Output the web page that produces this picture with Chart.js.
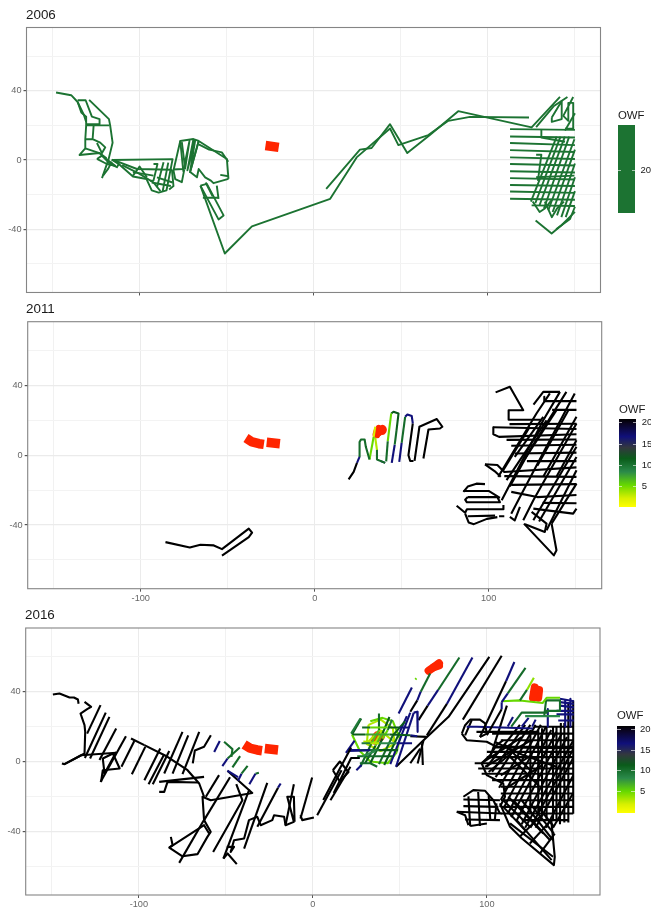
<!DOCTYPE html>
<html>
<head>
<meta charset="utf-8">
<title>OWF</title>
<script src="https://cdn.jsdelivr.net/npm/chart.js@4"></script>
<style>
body { margin: 0; background: #fff; font-family: "Liberation Sans", Arial, sans-serif; }
#page { position: relative; width: 651px; height: 909px; overflow: hidden; }
canvas { position: absolute; left: 0; }
.title { position: absolute; font-size: 13.4px; color: #1a1a1a; line-height: 16px; }
.legendTitle { position: absolute; font-size: 11.4px; color: #1a1a1a; line-height: 14px; }
.bar { position: absolute; width: 17.5px; }
.lab { position: absolute; font-size: 9.5px; color: #1a1a1a; line-height: 12px; }
.tick { position: absolute; width: 3.5px; height: 1px; background: rgba(255,255,255,.6); }
</style>
</head>
<body>
<div id="page">
  <canvas id="chart2006" width="651" height="300" style="top:0"></canvas>
  <canvas id="chart2011" width="651" height="308" style="top:300px"></canvas>
  <canvas id="chart2016" width="651" height="309" style="top:600px"></canvas>
</div>
<script>
// axis values
const xTickValues = [-150, -100, -50, 0, 50, 100, 150];
const xTickLabels = [-100, 0, 100];
const yTickValues = [-60, -40, -20, 0, 20, 40, 60];
const yTickLabels = [-40, 0, 40];

// owf colour ramp
const owfStopValues = [0, 2, 5, 8, 11, 13.5, 16, 19, 20];
const owfStopColors = ['#ffff00', '#d8f000', '#66d800', '#2b8a4a', '#0a5c1a', '#33383f', '#10107a', '#0a0420', '#000000'];
const flatColor2006 = '#1c7332';
const patchColor = '#ff2500';

// 2006 tracks, one colour
const tracks2006 = [
  [-148,39, -139.3,37.4, -135.6,33.5, -133.5,27.4, -130.7,25, -130.7,20, -131.2,12, -131.2,6.7, -134.5,2.9, -123,4, -116.9,-2.3, -113,-4.2, -112,-2.3, -116,0.2],
  [-135.6,34.5, -131,34.5, -127.4,25, -123,23.6, -123,20.7, -130.7,20.7],
  [-135.6,33.5, -132,26, -130.7,22],
  [-129,34.7, -117.6,23.6, -116.9,20, -115.5,10, -117.8,0.5, -121.6,-10.5],
  [-130.7,20, -117.3,20],
  [-126.4,20, -127,12, -122.6,10, -119.7,7.3, -121.6,4, -124.5,9.8],
  [-131.2,12, -127,12],
  [-131.2,6.7, -123,4, -119,1],
  [-124.5,0.6, -121.6,2.5, -114,-3.3, -118.8,-2.3, -124.5,0.6],
  [-121,-9, -118,-5, -116,-1],
  [-116,0, -81,0.5, -84.5,-17.5, -89,-18.8, -93,-17.5, -96,-11, -103.8,-9.5, -110,-4, -114,-0.4],
  [-114,-0.4, -101.5,-5.2, -81.4,-5.6],
  [-110,-3, -100,-8, -92,-13, -88,-18],
  [-103.8,-9, -100,-3.8, -95.8,-10],
  [-103.8,-7, -92,-9],
  [-92,-2.3, -89.7,-2.3, -92,-11.9, -94,-12],
  [-86.2,-1.3, -90,-15.7],
  [-83.5,-1.5, -86.7,-18],
  [-90,-10, -81,-13],
  [-93,-13, -82,-15],
  [-81.4,-5.6, -80.5,-15, -83,-17],
  [-80.8,-5.5, -75,-5.2, -76.6,11, -69,12.1, -66,11, -49.8,0.6, -48.9,-10.9],
  [-76.6,11, -80.5,-6.1, -79.5,-11, -75.7,-12.8, -74.3,-5.6],
  [-75.7,10.3, -73.8,-5, -71.3,11, -75,-6.7],
  [-69,12.1, -72.5,-6, -68,11.5, -71,-7, -66,11],
  [-66,11, -70.9,-7, -67,-10, -66,-5.2, -62.3,-10, -59,-11.9, -57.5,-13.4, -48.9,-10.9],
  [-66,9, -60,6, -52.7,4.4, -49,-1],
  [-53.6,-8.6, -48.9,-9.4],
  [-65,-14.8, -61.3,-13.8, -51.7,-32, -54.6,-34.3, -65,-14.8],
  [-65,-14.8, -51,-54, -35.4,-38.3, 9.6,-22.4, 24.8,1.5, 44,18.2, 48.8,8.6, 66,14.4, 77.5,22.6, 90,24.9, 123.9,24.5],
  [-63.6,-21.8, -54.6,-21.8],
  [-55.6,-14.8, -54.6,-22.4],
  [-62,-13, -58,-21],
  [7.3,-16.7, 26.7,6, 33.4,6.9, 44,20.7, 53.9,4, 66.9,14.4, 83.2,28.2, 125.4,18.8, 141.7,36.4],
  [128,19, 138,31, 146,36.4],
  [137,24.5, 142.7,34, 142.7,23.6, 137,22, 137,24.5],
  [149.3,36.4, 143.6,25.5, 146.5,22.6, 146.5,33, 149.3,33, 149.3,18, 144.6,18],
  [150.3,27, 144.6,17],
  [131,17.4, 131,13, 144.6,10.5],
  [113,17.8, 150.3,17.4],
  [113,13.6, 150.3,13],
  [113,9.8, 150.3,8.6],
  [113,5.7, 150.3,4.6],
  [113,1.5, 150.3,0.6],
  [113,-2.3, 150.3,-3.2],
  [113,-6.5, 150.3,-7.2],
  [113,-10.5, 150.3,-11.3],
  [113,-14.4, 150.3,-15],
  [113,-18.2, 150.3,-19],
  [113,-22.4, 150.3,-23],
  [125.4,-26.2, 150.3,-26.6],
  [125,-24, 139.8,13.5],
  [127.5,-25, 142,13.5],
  [130,-26, 144.5,13.5],
  [132.5,-28, 147,13.5],
  [135,-29, 150,12],
  [137.5,-30, 150.3,6],
  [140,-32, 150.3,-2],
  [142.5,-33, 150.3,-10],
  [145,-33, 150.3,-18],
  [128,3, 131,3, 129,-12],
  [128,-10, 150,-9],
  [126,-24, 130,-30, 133,-28, 137,-23],
  [133,-24, 137,-33, 140,-28, 144,-24],
  [127.7,-34.9, 136.9,-42.5, 142.6,-37.7, 150.3,-30],
  [139.5,-40, 147.5,-34, 150.3,-27]
];
const patches2006 = [[-27.6,8.4, -20,7.3]];

// 2011 tracks, first value of each list is the owf
const tracks2011 = [
  [20, -85.8,-49.8, -71.8,-52.9, -65.7,-51.3, -58,-51.7, -53.3,-53.8, -37.9,-42.1, -36,-44.4, -37.9,-46.9, -53.3,-57.5],
  [20, 19.5,-13.8, 22.4,-9.6, 24.3,-4.4],
  [16, 24.3,-4.4, 25.8,-1],
  [10, 25.8,-1, 25.8,7.6, 26.6,9, 28.7,9, 29.4,4.8, 31.5,-2.5],
  [5, 31.5,-2.5, 33.9,10.5],
  [2, 33.9,10.5, 34.8,16.3],
  [3, 34.8,10, 35.8,3],
  [10, 35.8,3, 35.8,-2.5, 40.5,-4.4],
  [15, 38,-3.4, 40.5,-4.4],
  [10, 41.1,-3.5, 42,8],
  [5, 42,8, 44,23.9],
  [11, 44,23.9, 45.3,24.9, 48.2,23.9, 47,14],
  [10, 47,14, 46,6],
  [16, 46,6, 44.3,-4.4],
  [16, 48.6,-3.8, 50,7],
  [10, 50,7, 52,22],
  [16, 52,22, 53.3,23.3, 55.8,22.4, 56.4,18.2],
  [20, 56.4,18.2, 53.9,0, 54.9,-3.3, 56.8,-3.3],
  [20, 57.4,-3.3, 60.2,16.3, 70.2,20.7, 73.4,16.3, 72,15.3, 65.4,14.7, 62.5,-1.9],
  [20, 104,36, 112.2,39.2, 119.9,25.8, 111.5,25.8, 111.5,20.3, 130,20.3],
  [20, 125.8,29, 131.4,36.3, 141,36.3],
  [20, 132,33.5, 132,31, 150.5,31],
  [20, 136.5,26, 150.5,26],
  [20, 112,17.8, 150.5,18],
  [20, 102.7,16, 150.5,15],
  [20, 102.7,16, 102.7,12, 106,10.5, 150.5,12],
  [20, 110.3,8.8, 150.5,9],
  [20, 113,5.4, 150.5,6],
  [20, 115,1, 150.5,1.5],
  [20, 122,-3.4, 150.5,-3.4],
  [20, 97.9,-5.2, 105,-5.6, 109,-9.6, 150.5,-7],
  [20, 97.9,-5.2, 104,-9.6, 107,-12.4],
  [20, 109,-12, 150.5,-12.4],
  [20, 113,-17, 150.5,-16.6],
  [20, 113,-21, 128,-24, 150.5,-22.8],
  [20, 131,-27.3, 150.5,-27.5],
  [20, 125.7,-30.6, 148.6,-33.5, 150.5,-30.6],
  [20, 107.5,-25.8, 131.4,20, 141,36.3],
  [20, 105.5,-12.4, 127.5,23.9, 135.2,35.4],
  [20, 112.2,-18, 123.7,2.9, 144.7,36.3],
  [20, 113,-33.5, 118,-24, 135.2,8.6, 149.5,35.4],
  [20, 119.9,-37.3, 125.7,-25.8, 150.5,18.2],
  [20, 125.7,-37.3, 150.5,4.8],
  [20, 129,-38, 150.5,-1],
  [20, 133.3,-43, 150.5,-8.6],
  [20, 136.2,-39.2, 150.5,-16.3],
  [20, 115,-1, 131.4,22],
  [20, 110.3,-14.3, 133.3,20],
  [20, 120.9,-2, 139,25.8],
  [20, 108.4,-8.6, 123.7,16.3],
  [20, 128,-6, 146,26],
  [20, 131.4,-12.4, 150.5,22],
  [20, 139,-12.4, 150.5,8.6],
  [20, 120.3,-39.2, 137.5,-57.4, 139,-54.5, 136.2,-39.2],
  [20, 120.9,-39.6, 132.3,-44, 133.3,-39.2, 124.7,-32.5],
  [20, 112.2,-35.4, 115,-37.3, 118,-29.6],
  [20, 85.5,-21, 88,-18, 93,-16.3, 97.9,-16.6],
  [20, 85.5,-20.5, 100,-20.5, 106.5,-24.5],
  [20, 88,-24, 105,-24, 106.5,-27, 87.5,-27, 86.5,-25.5, 88,-24],
  [20, 81.6,-29, 86.5,-33, 87.5,-31, 108.5,-31, 108.5,-28.5],
  [20, 86.5,-33.5, 88.5,-38.5, 91.5,-39.5, 99,-36.5, 105,-35.5],
  [20, 88,-35, 103.7,-34.6],
  [20, 106,-35, 109,-35]
];
const patches2011 = [
  [-39.5,9.8, -36,7.6, -32,6.6, -29.2,6.2],
  [-27.6,7.4, -20,6.6]
];
const blobs2011 = [[39,15, 36.5,13], [35.6,12, 36.2,14], [37,15, 39,14]];

// 2016 tracks, first value of each list is the owf
const tracks2016 = [
  [20, -149.4,38.4, -145.6,39, -139.8,36.7, -137.3,36.7, -135,35.5, -134.6,33.1],
  [20, -131.2,34.2, -127.4,31.3, -129.7,30, -133.5,27.5, -131.2,20.8, -130.8,17, -131.2,4.6, -142.7,-1.5, -144.2,-1.1],
  [20, -129.7,16, -122,32.3],
  [20, -131,2, -119,28],
  [20, -128,1.7, -116.9,25.6],
  [20, -122.6,0.8, -113,18.9],
  [20, -122,-11.7, -107.4,14.5],
  [20, -110,-3, -102.6,11.8],
  [20, -104,-7.3, -96.3,8.4],
  [20, -96.8,-10.7, -87.7,7.4],
  [20, -94.4,-13, -85.4,4.2],
  [20, -92,-13, -82.5,6],
  [20, -85.4,-6.9, -74.9,17],
  [20, -80.6,-6.9, -71.6,15],
  [20, -74.9,-7.3, -65.3,17],
  [20, -69,-1.1, -67.8,6.3, -62.5,8.4, -58.6,15],
  [20, -104.5,13.2, -96.8,9.4],
  [20, -96.8,9.4, -83.5,2.7, -72,-5, -65.3,-12.6, -62.5,-20.2],
  [20, -121.7,-11.7, -120.7,-5, -111,-4, -114.9,4.6, -120.7,1.7, -119.7,-6.9, -113,5.5],
  [20, -142.7,-1.5, -133.1,3.6, -113,5],
  [20, -88.3,-11.7, -62.5,-8.8],
  [20, -88.3,-17.4, -85.4,-17.4, -83.5,-11.7, -66,-12],
  [16, -56.7,5.5, -53.5,11.8],
  [10, -51,11.3, -46.2,7.1, -46.8,2.7],
  [16, -52,-2.7, -49,1.7],
  [10, -49,1.7, -42,8],
  [10, -46.2,-3.4, -41.8,3.1],
  [10, -41,-7, -37.5,-2.5],
  [16, -43,-11, -41,-7],
  [16, -36.5,-13, -33,-7],
  [10, -33,-7, -31,-6.5],
  [20, -61.5,-20.2, -53.9,-7.8],
  [20, -62.5,-33.6, -47.6,-9],
  [20, -57.3,-51.8, -40.5,-22.2, -44,-13],
  [20, -51.4,-55.6, -36.5,-16],
  [16, -49.1,-5.3, -43,-9],
  [20, -39.5,-49.9, -26.2,-12.2],
  [20, -31.9,-37.4, -20,-15],
  [16, -20,-15, -18.5,-12.6],
  [20, -15.7,-36.5, -10.9,-13],
  [20, -7.1,-32.7, -0.4,-9.2],
  [20, 2.5,-30.8, 16.5,-5],
  [20, -49.5,-48.9, -45.3,-48.9, -47.2,-51.8, -45.3,-45.1, -39.5,-44.1, -36.7,-33.6, -31.9,-31.7, -30,-36.5, -23.3,-33.6, -22.3,-30.8, -16.5,-31.7, -15.7,-36.5, -10.9,-34.6, -14.7,-20.2, -10.9,-20.2, -10.5,-34.6],
  [20, -7.1,-30.8, -6.1,-33.6, 0.6,-32.1],
  [20, -51.4,-55.6, -49,-52.7, -43.7,-58.8],
  [20, -81.6,-43.2, -80.6,-47.9, -82.5,-49.3, -74.9,-54.3, -66.3,-53.1, -60.6,-43.2, -58.7,-40.3, -62.5,-33.6, -63.4,-20.2, -58.7,-22.2, -34.8,-18, -49.1,-5.3],
  [20, -82.5,-49.3, -62.5,-36.5, -59.6,-41.3],
  [20, -76.8,-58.1, -61.5,-31.7],
  // middle, bottom of the cluster
  [20, 10.1,-22.2, 21.6,-3],
  [20, 6,-22, 15,-5, 22,8],
  [20, 12,-18, 22,2, 27,2],
  [20, 11.5,-5, 15.5,0, 20.5,-6, 15.5,-11.5, 11.5,-5],
  [16, 19,5, 24,12],
  [16, 28,-2, 25,-5],
  [9, 22,16, 27.3,24.6],
  [10, 27,-1, 33,-1, 37,-3],
  [8, 28.5,3, 36,6],
  [16, 20,6, 33,6.5],
  // horizontals of the cluster
  [10, 28.3,19.5, 33,19.5], [5, 33,19.5, 43,19.5], [11, 43,19.5, 50,19.5], [16, 50,19.5, 55,19.5],
  [11, 23,15.5, 30,15.5], [7, 30,15.5, 44,15.5], [11, 44,15.5, 56,15], [16, 56,15, 60,14.5],
  [9, 28,10.5, 33,10.5], [3, 33,10.5, 38,10.5], [8, 38,10.5, 48,10.5], [16, 48,10.5, 57,10.5],
  [16, 21,6.5, 27,6.5], [9, 27,6.5, 38,6.5], [11, 38,6.5, 49,6.5],
  [10, 25.5,3, 40,3], [11, 40,3, 46,3],
  // diagonals of the cluster
  [11, 22.5,15.5, 27.8,24.6],
  [10, 27.3,-3, 34,11], [6, 34,11, 38,18], [10, 38,18, 38,27.5],
  [11, 30,-1, 36,9], [6, 36,9, 40,16], [11, 40,16, 44,25.5],
  [11, 33,-1, 40,13], [5, 40,13, 43,18], [9, 43,18, 45.5,24],
  [10, 38,-1.5, 46,15], [11, 46,15, 53,23],
  [11, 41,-2, 50,17], [16, 50,17, 54,26],
  [16, 44.5,-1.5, 56,28],
  [16, 47.8,-3, 58,28],
  [16, 58,28, 60,28.5, 60.2,17],
  // ring and star round the patch
  [5, 22.5,15.5, 27,6, 33,0, 43,-1, 48,5, 50,13, 46,23, 40,25, 33,23],
  [3, 32,21, 39,24, 46,19, 47,10, 39,6, 31,10, 32,21],
  [3, 31,10.5, 38.5,18, 47,11],
  [3, 29,11.5, 36,11, 40,18],
  // upper diagonals
  [16, 49.3,27.5, 56.9,42.4],
  [20, 56,28.5, 60,35],
  [16, 60,35, 62,40],
  [10, 62,40, 67.4,50.4],
  [5, 58.9,47, 59.5,47.7],
  [20, 60.7,23.7, 66,32],
  [16, 66,32, 72,41],
  [10, 72,41, 84.2,59.6],
  [20, 65.5,15, 77,33],
  [16, 77,33, 91.7,59.6],
  [20, 47.8,-3, 63.6,12.2, 78,25.6, 101.4,60],
  [20, 60.2,-1.1, 63.6,12.2],
  [20, 63.2,-2, 62.7,10.3],
  [20, 56,-1, 61.7,7.4],
  [20, 56,14.5, 65.5,14.1],
  [20, 86.2,24, 108.5,60.6],
  [20, 96,14, 111,46],
  [16, 111,46, 115.8,57],
  [16, 108.5,34, 112,39],
  [10, 112,39, 122.2,53.7],
  [20, 100,15, 108.5,30],
  [16, 108.5,30, 108.5,34],
  [10, 119,35, 123,41],
  [4, 123,41, 127,48],
  // upper right band
  [5, 108.5,34.5, 119,35, 132,33.5, 134.3,36.5, 142,36.5],
  [10, 133,26.5, 134,35, 142,35, 142,29, 133,29],
  [10, 114,20, 120,28, 135,28],
  [8, 122,26, 142,26],
  [16, 112,20, 115,25.5],
  [16, 120,20, 124,25],
  [16, 126,20, 128,24],
  [16, 142,36, 150,34.5],
  [16, 142,34, 150,33],
  [16, 142,32, 150,31],
  [16, 140,29, 150,29],
  [16, 140,27, 150,27],
  [16, 141,23.5, 150,23.5],
  [16, 135,30, 135,20],
  [16, 145,35, 145,20],
  [16, 148,36, 148,20],
  // right block, west to east
  [16, 88.4,19.9, 94.2,19.9, 126.6,18.9],
  [20, 85.6,16, 88.4,12.2, 99.9,11.3, 105.6,8.4],
  [20, 85.6,16, 87.5,20.8, 90.4,24, 96,24, 99,21.8, 99.9,16, 96,14],
  [20, 87.5,15, 91.3,23.7],
  [20, 94,17, 130,17],
  [20, 127,19.9, 149.6,19.9],
  [20, 103,16, 149.6,16],
  [20, 108,12.2, 149.6,12.2],
  [20, 105,8.4, 149.6,8.4],
  [20, 105,8, 149.6,7.6],
  [20, 100,5.5, 149.6,5.5],
  [20, 100,2.5, 149.6,2.5],
  [20, 93,-1, 149.6,-1],
  [20, 95,-4, 149.6,-4],
  [20, 97,-7, 149.6,-7],
  [20, 103,-10.7, 149.6,-10.7],
  [20, 108,-14.5, 149.6,-14.5],
  [20, 108,-18.3, 149.6,-18.3],
  [20, 108,-22.2, 149.6,-22.2],
  [20, 108,-26, 149.6,-26],
  [20, 108,-29.8, 149.6,-29.8],
  [20, 120,-33.6, 147,-33.6],
  [20, 125,-30, 125,18],
  [20, 129.5,-30, 129.5,18],
  [20, 131.7,-30, 131.7,19],
  [20, 134.3,-34, 134.3,20],
  [20, 138,-34, 138,20],
  [20, 140,-34, 140,20],
  [20, 142,-36, 142.5,22],
  [20, 144.5,-35, 144.5,22],
  [20, 146.8,-35, 146.8,34],
  [20, 149.6,-30, 149.6,35],
  [20, 102,2.7, 111.5,32],
  [20, 100,-3, 119,21],
  [20, 103,-6, 122,21],
  [20, 105,-9, 125,21],
  [20, 107,-15, 128,21],
  [20, 108,-22, 131,21],
  [20, 110,-26, 134,20],
  [20, 112,-30, 137,18],
  [20, 114,-32, 140,17],
  [20, 117,-34, 143,16],
  [20, 120,-36, 146,14],
  [20, 122,-38, 149.6,12],
  [20, 125,-38, 149.6,7],
  [20, 128,-38, 149.6,2],
  [20, 134,-38, 149.6,-8],
  [20, 138,-38, 149.6,-18],
  [20, 110,10, 126,-6],
  [20, 105,11, 120,4, 140,-3],
  [20, 113,3, 130,-14],
  [20, 97,-1, 120,14],
  [20, 99,-3, 125,12],
  [20, 101,-6, 118,8],
  [20, 108,-8, 126,4],
  [20, 110,-16, 132,-2],
  [20, 97,-1, 101.8,3.6, 105.6,9.4, 109.4,12.2],
  [20, 97,-1, 99.9,-7.8, 109.4,-12.6, 110.4,-20.2, 107.5,-26],
  // triangle at the south
  [20, 107.5,-24, 113.3,-37.4, 120,-44, 138.5,-59.4, 139,-54.7, 137,-33.6],
  [20, 109.4,-22.2, 124.7,-37.4],
  [20, 109.4,-26, 122.8,-40.3],
  [20, 112.3,-20.2, 132.4,-41.3],
  [20, 115.2,-22.2, 136.2,-45],
  [20, 120,-22.2, 138,-45],
  [20, 124.7,-24, 138.5,-41.3],
  [20, 129.5,-26, 138.5,-37.4],
  [20, 113.3,-35.5, 138,-54.6],
  [20, 117.1,-33.6, 137.2,-56.5],
  [20, 119,-43, 132.4,-29.8],
  [20, 124.7,-47, 137,-33.6],
  [20, 130.5,-52.7, 139,-41.3],
  // ball to the south west
  [20, 86.5,-21.8, 107.5,-22.2],
  [20, 86.5,-25.6, 106.6,-26],
  [20, 82.7,-28.8, 108.5,-29.8],
  [20, 87.5,-33.2, 107.5,-33.6],
  [20, 90.4,-37, 100,-35.5],
  [20, 89.4,-20, 90.4,-37],
  [20, 95,-17.5, 96,-37],
  [20, 101,-19.5, 102,-34],
  [20, 105.5,-24, 104.5,-34],
  [20, 86.5,-20.2, 92.2,-16.4, 99,-16.8, 103.7,-22.2, 107.5,-29.8],
  [20, 82.7,-28.8, 87.5,-30.8, 89.4,-36.5]
];
const patches2016 = [
  [-39.5,9.8, -36,7.6, -32,6.6, -29.2,6.2],
  [-27.6,7.4, -20,6.6]
];
const blobs2016 = [
  [39,15, 36.5,13], [35.6,12, 36.2,14], [37,15, 39,14],
  [66.5,52, 70,54.5, 72.5,56.3], [69.5,54, 72.5,55],
  [127.5,42.5, 126.5,36.5], [130,41, 129.5,36.5]
];

function pairs(list, from) {
  const pts = [];
  for (let i = from; i + 1 < list.length; i += 2) {
    pts.push({ x: list[i], y: list[i + 1] });
  }
  return pts;
}

function owfColor(v) {
  let i = 0;
  while (i < owfStopValues.length - 2 && v > owfStopValues[i + 1]) i++;
  const t = Math.min(1, (v - owfStopValues[i]) / (owfStopValues[i + 1] - owfStopValues[i]));
  const a = owfStopColors[i], b = owfStopColors[i + 1];
  const mix = [1, 3, 5].map(p => {
    const c0 = parseInt(a.substr(p, 2), 16), c1 = parseInt(b.substr(p, 2), 16);
    return Math.round(c0 + (c1 - c0) * t);
  });
  return 'rgb(' + mix.join(',') + ')';
}

function trackSet(list, from, color, width, cap) {
  return {
    data: pairs(list, from),
    showLine: true,
    pointRadius: 0,
    borderColor: color,
    borderWidth: width,
    borderCapStyle: cap,
    borderJoinStyle: 'round',
    tension: 0,
    fill: false
  };
}

const panelFrame = {
  id: 'panelFrame',
  afterDraw(chart) {
    const a = chart.chartArea, ctx = chart.ctx;
    ctx.save();
    ctx.strokeStyle = '#858585';
    ctx.lineWidth = 1.1;
    ctx.strokeRect(a.left, a.top, a.width, a.height);
    ctx.restore();
  }
};

function drawPanel(id, datasets, plot, showXLabels) {
  const canvas = document.getElementById(id);
  new Chart(canvas, {
    type: 'scatter',
    data: { datasets: datasets },
    plugins: [panelFrame],
    options: {
      responsive: false,
      animation: false,
      events: [],
      layout: { padding: { top: plot.top, right: canvas.width - plot.right, left: 0, bottom: 0 } },
      plugins: { legend: { display: false }, tooltip: { enabled: false } },
      scales: {
        x: {
          type: 'linear', min: -165, max: 165,
          afterBuildTicks: s => { s.ticks = xTickValues.map(v => ({ value: v })); },
          afterFit: s => { s.height = canvas.height - plot.bottom; },
          grid: {
            color: c => xTickLabels.includes(c.tick.value) ? '#ebebeb' : '#f1f1f1',
            lineWidth: 1,
            tickLength: 3,
            tickColor: c => xTickLabels.includes(c.tick.value) ? '#555' : 'rgba(0,0,0,0)'
          },
          border: { display: false },
          ticks: {
            autoSkip: false, maxRotation: 0, padding: 1,
            color: '#666', font: { size: 9.2, family: '"Liberation Sans"' },
            callback: v => showXLabels && xTickLabels.includes(v) ? String(v) : ''
          }
        },
        y: {
          type: 'linear', min: -76.5, max: 76.5,
          afterBuildTicks: s => { s.ticks = yTickValues.map(v => ({ value: v })); },
          afterFit: s => { s.width = plot.left; },
          grid: {
            color: c => yTickLabels.includes(c.tick.value) ? '#ebebeb' : '#f3f3f3',
            lineWidth: c => yTickLabels.includes(c.tick.value) ? 1.2 : 1,
            tickLength: 3,
            tickColor: c => yTickLabels.includes(c.tick.value) ? '#555' : 'rgba(0,0,0,0)'
          },
          border: { display: false },
          ticks: {
            autoSkip: false, padding: 2,
            color: '#666', font: { size: 9.2, family: '"Liberation Sans"' },
            callback: v => yTickLabels.includes(v) ? String(v) : ''
          }
        }
      }
    }
  });
}

const patchSets = list => list.map(p => trackSet(p, 0, patchColor, 9.5, 'butt'));
const blobSets = list => list.map(p => trackSet(p, 0, patchColor, 8, 'round'));
const owfSets = (list, width) => list.map(t => trackSet(t, 1, owfColor(t[0]), width, 'butt'));

drawPanel('chart2006', tracks2006.map(t => trackSet(t, 0, flatColor2006, 1.9, 'butt')).concat(patchSets(patches2006)),
  { left: 26.5, right: 600.5, top: 27.5, bottom: 294 }, false);
drawPanel('chart2011', owfSets(tracks2011, 2.1).concat(patchSets(patches2011), blobSets(blobs2011)),
  { left: 27.7, right: 601.7, top: 21.7, bottom: 288.7 }, true);
drawPanel('chart2016', owfSets(tracks2016, 2.1).concat(patchSets(patches2016), blobSets(blobs2016)),
  { left: 25.7, right: 600, top: 28, bottom: 295 }, true);

// headings and colour bars
const page = document.getElementById('page');
function addText(cls, text, left, top) {
  const d = document.createElement('div');
  d.className = cls;
  d.textContent = text;
  d.style.left = left + 'px';
  d.style.top = top + 'px';
  page.appendChild(d);
  return d;
}
function addRamp(left, top, height, labelTops) {
  const bar = document.createElement('div');
  bar.className = 'bar';
  bar.style.left = left + 'px';
  bar.style.top = top + 'px';
  bar.style.height = height + 'px';
  const stops = owfStopValues.map((v, i) => owfStopColors[i] + ' ' + (v / 20 * 100) + '%');
  bar.style.background = 'linear-gradient(to top,' + stops.join(',') + ')';
  page.appendChild(bar);
  labelTops.forEach(l => {
    addText('lab', l[0], left + 23, l[1] - 6);
    addText('tick', '', left, l[1]);
    addText('tick', '', left + 14, l[1]);
  });
}
addText('title', '2006', 26, 7);
addText('title', '2011', 26, 301);
addText('title', '2016', 25, 607);

addText('legendTitle', 'OWF', 618, 108);
const flatBar = document.createElement('div');
flatBar.className = 'bar';
flatBar.style.cssText = 'left:617.7px;top:125.3px;height:87.4px;background:' + flatColor2006;
page.appendChild(flatBar);
addText('lab', '20', 640.5, 163.5);
addText('tick', '', 617.7, 169.5);
addText('tick', '', 631.7, 169.5);

addText('legendTitle', 'OWF', 619, 402);
addRamp(618.7, 419.3, 87.4, [['20', 422], ['15', 443.5], ['10', 465], ['5', 486]]);
addText('legendTitle', 'OWF', 617, 708);
addRamp(617, 726, 86.7, [['20', 729], ['15', 749.5], ['10', 770], ['5', 791]]);
</script>
</body>
</html>
